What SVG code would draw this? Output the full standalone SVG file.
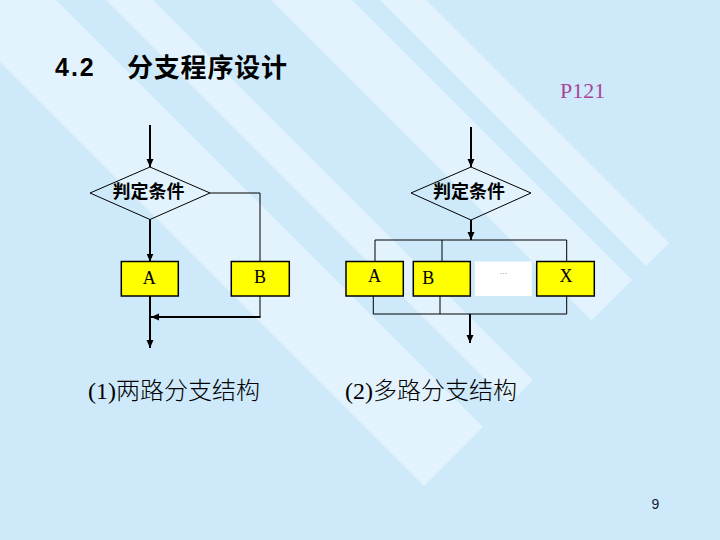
<svg xmlns="http://www.w3.org/2000/svg" width="720" height="540" viewBox="0 0 720 540">
<style>
.band{fill:#e3f3fd}
.thin{stroke:#000;stroke-width:1;fill:none}
.thick{stroke:#000;stroke-width:2;fill:none}
.dia{stroke:#000;stroke-width:1;fill:none}
.box{fill:#ffff00;stroke:#000;stroke-width:1.5}
.cond{font-family:"Noto Sans CJK SC",sans-serif;font-weight:bold;font-size:18px;fill:#000;text-anchor:middle}
.lbl{font-family:"Liberation Serif",serif;font-size:18px;fill:#000;text-anchor:middle}
.cap{font-family:"Liberation Serif","Noto Sans CJK SC",serif;font-weight:300;font-size:24px;fill:#000}
</style>
<defs>
<marker id="arr" markerUnits="userSpaceOnUse" markerWidth="9" markerHeight="8" refX="8" refY="3.5" orient="auto">
<path d="M0,0 L8,3.5 L0,7 Z" fill="#000"/>
</marker>
</defs>
<rect x="0" y="0" width="720" height="540" fill="#cde9fa"/>
<g id="background-bands">
<polygon class="band" points="-62,0 56,0 483,427 424,486"/>
<polygon class="band" points="106,0 153,0 533,380 509.5,403.5"/>
<polygon class="band" points="271,0 352,0 632,280 591.5,320.5"/>
<polygon class="band" points="380,0 426,0 669,243 646,266"/>
</g>
<g id="title">
<text x="55" y="76" font-family="Liberation Sans,sans-serif" font-weight="bold" font-size="25px" letter-spacing="2">4.2</text>
<text x="127" y="77" font-family="Noto Sans CJK SC,sans-serif" font-weight="bold" font-size="26px" letter-spacing="0.8">分支程序设计</text>
</g>
<text id="page-ref" x="560" y="98" font-family="Liberation Serif,serif" font-size="22px" fill="#aa4499">P121</text>
<g id="connectors">
<line class="thick" x1="150" y1="125" x2="150" y2="167" marker-end="url(#arr)"/>
<line class="thick" x1="150" y1="219.5" x2="150" y2="261.5" marker-end="url(#arr)"/>
<line class="thick" x1="150" y1="296" x2="150" y2="348" marker-end="url(#arr)"/>
<polyline class="thin" points="210,193 260,193 260,261.5"/>
<line class="thin" x1="260" y1="296" x2="260" y2="317"/>
<line class="thick" x1="260.5" y1="317" x2="151" y2="317" marker-end="url(#arr)"/>
<line class="thick" x1="471" y1="127" x2="471" y2="167" marker-end="url(#arr)"/>
<line class="thick" x1="471" y1="220" x2="471" y2="240" marker-end="url(#arr)"/>
<polyline class="thin" points="375,261.5 375,240 566.7,240 566.7,261.5"/>
<line class="thin" x1="442" y1="240" x2="442" y2="261.5"/>
<polyline class="thin" points="373.3,296 373.3,314 566.7,314 566.7,296"/>
<line class="thin" x1="440" y1="296" x2="440" y2="314"/>
<line class="thick" x1="470" y1="314" x2="470" y2="343" marker-end="url(#arr)"/>
</g>
<g id="cond1">
<polygon class="dia" points="90,193 150,167 210,193 150,219.5"/>
<text class="cond" x="148.5" y="197.5">判定条件</text>
</g>
<g id="boxA1">
<rect class="box" x="121.3" y="261.5" width="57" height="34.5"/>
<text class="lbl" x="149.3" y="284">A</text>
</g>
<g id="boxB1">
<rect class="box" x="231.3" y="261.5" width="58" height="34.5"/>
<text class="lbl" x="260" y="282.5">B</text>
</g>
<g id="cond2">
<polygon class="dia" points="411,193 471,167 531,193 471,220"/>
<text class="cond" x="469" y="197.5">判定条件</text>
</g>
<g id="boxA2">
<rect class="box" x="346" y="261.5" width="57.3" height="34.5"/>
<text class="lbl" x="374.5" y="282">A</text>
</g>
<g id="boxB2">
<rect class="box" x="413.3" y="261.5" width="57" height="34.5"/>
<text class="lbl" x="428.3" y="284">B</text>
</g>
<g id="boxDots">
<rect x="475" y="261.5" width="56.7" height="34.5" fill="#ffffff"/>
<text x="503.5" y="274" font-family="Liberation Sans,sans-serif" font-size="8px" fill="#666" text-anchor="middle">…</text>
</g>
<g id="boxX2">
<rect class="box" x="536.7" y="261.5" width="57.6" height="34.5"/>
<text class="lbl" x="566" y="282">X</text>
</g>
<text class="cap" x="88" y="399">(1)两路分支结构</text>
<text class="cap" x="345" y="399">(2)多路分支结构</text>
<text x="655.5" y="509" font-family="Liberation Sans,sans-serif" font-size="14px" fill="#1a1a33" text-anchor="middle">9</text>
</svg>
